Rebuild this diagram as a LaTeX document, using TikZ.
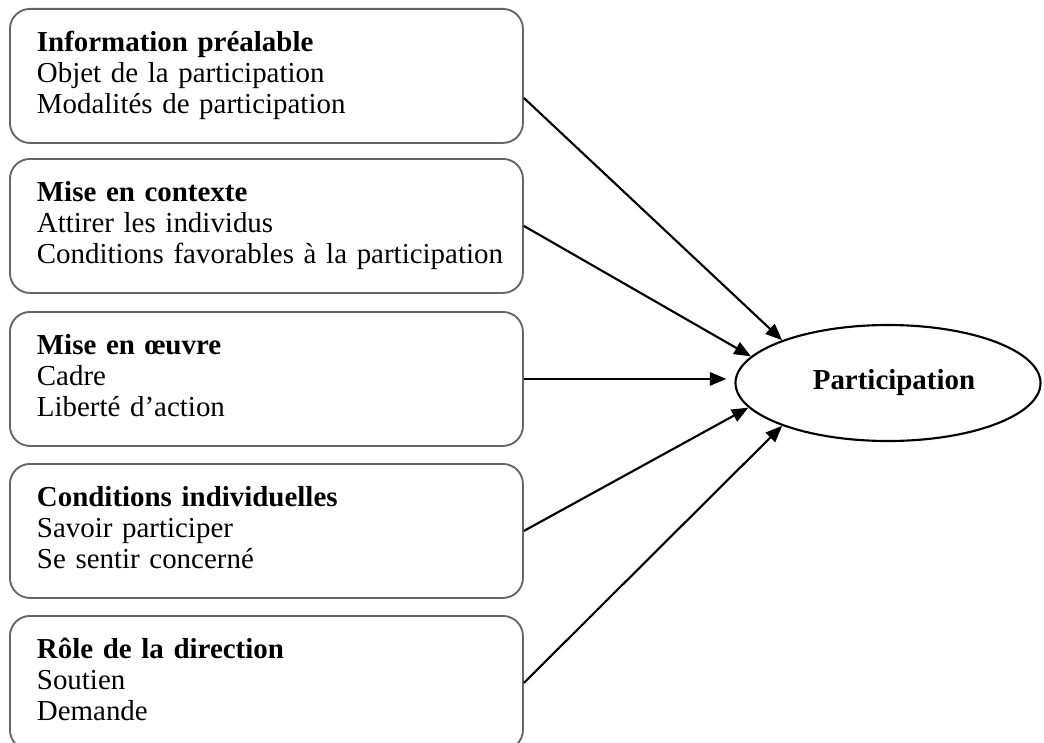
\documentclass[tikz,border=0pt]{standalone}
\usepackage{fontspec}
\setmainfont{Liberation Serif}
\usetikzlibrary{arrows.meta,shapes.geometric}
% indent of each text line inside a factor box
\newcommand\factorindent{\hspace*{20.25pt}}
% three-line text of a factor box: bold heading, then two items
\newcommand\factortext[3]{\factorindent\strut\textbf{#1}\\\factorindent#2\\\factorindent#3\strut}
\begin{document}
\begin{tikzpicture}[x=0.75pt,y=-0.75pt,
  factor/.style={draw=black!60, line width=1.4pt, rounded corners=15pt,
    anchor=north west, minimum width=384.75pt, minimum height=100.5pt,
    inner xsep=0pt, inner ysep=0pt, text width=384.75pt, align=left,
    font=\fontsize{21.7}{23.25}\selectfont},
  outcome/.style={ellipse, draw=black, line width=1.6pt, minimum width=228.75pt,
    minimum height=87pt, inner sep=0pt, font=\fontsize{21.7}{23.25}\selectfont\bfseries},
  link/.style={draw=black, line width=1.6pt, -{Triangle[length=12.5pt,width=10pt]}}]
  \clip (0,0) rectangle (1044,742);
  \fill[white] (0,0) rectangle (1044,742);

  % contributing factors
  \node[factor] (b1) at (9,8)   {\factortext{Information préalable}{Objet de la participation}{Modalités de participation}};
  \node[factor] (b2) at (9,158) {\factortext{Mise en contexte}{Attirer les individus}{Conditions favorables à la participation}};
  \node[factor] (b3) at (9,311) {\factortext{Mise en œuvre}{Cadre}{Liberté d’action}};
  \node[factor] (b4) at (9,463) {\factortext{Conditions individuelles}{Savoir participer}{Se sentir concerné}};
  \node[factor] (b5) at (9,615) {\factortext{Rôle de la direction}{Soutien}{Demande}};

  % outcome
  \node[outcome] (p) at (888,383) {\hspace*{9pt}Participation};

  % influences
  \draw[link] ([yshift=-16.5pt]b1.east) -- (p.158.9);
  \draw[link] (b2.east) -- (p.169.7);
  \draw[link, shorten >=6pt] (b3.east) -- (b3.east -| p.west);
  \draw[link] (b4.east) -- (p.190.7);
  \draw[link] (b5.east) -- (p.202.1);
\end{tikzpicture}
\end{document}
